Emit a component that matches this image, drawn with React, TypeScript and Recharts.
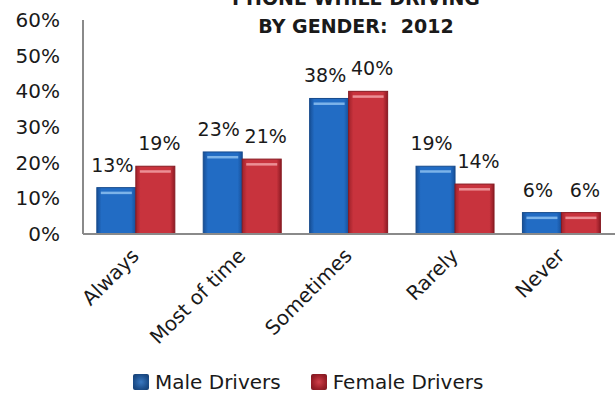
import { BarChart, Bar, XAxis, YAxis, Legend, LabelList } from 'recharts';

// Values
const categories = ['Always', 'Most of time', 'Sometimes', 'Rarely', 'Never'];
const maleDrivers = [13, 23, 38, 19, 6];
const femaleDrivers = [19, 21, 40, 14, 6];
const yTicks = [0, 10, 20, 30, 40, 50, 60];
const titleLines = ['PHONE WHILE DRIVING', 'BY GENDER:  2012'];
const seriesNames = ['Male Drivers', 'Female Drivers'];

const data = categories.map((name, i) => ({
  name,
  male: maleDrivers[i],
  female: femaleDrivers[i],
}));

const FONT = '"DejaVu Sans", sans-serif';
const TEXT = '#1a1a1a';

/** Excel-style bevelled bar: gradient body, thin highlight near the top */
function BevelBar(props: any) {
  const { x, y, width, height, gradId, edge, shine } = props;
  if (!height || height <= 0) return null;
  return (
    <g>
      <rect x={x} y={y} width={width} height={height} fill={`url(#${gradId})`} stroke={edge} strokeWidth={1} />
      <rect x={x + 4} y={y + 4} width={width - 8} height={2.5} fill={shine} opacity={0.85} />
    </g>
  );
}

// value label above a bar; shift pushes the pair apart a little so they don't collide
function PercentLabel(props: any) {
  const { x, y, width, value, shift = 0 } = props;
  return (
    <text x={x + width / 2 + shift} y={y - 16} textAnchor="middle" fontSize={19} fill={TEXT} fontFamily={FONT}>
      {value}%
    </text>
  );
}

function AngledTick(props: any) {
  const { x, y, payload } = props;
  const ax = x + 4;
  const ay = y + 15;
  return (
    <text
      x={ax}
      y={ay}
      transform={`rotate(-45, ${ax}, ${ay})`}
      textAnchor="end"
      fontSize={20}
      fill={TEXT}
      fontFamily={FONT}
    >
      {payload.value}
    </text>
  );
}

function ChartLegend() {
  const box = (bg: string) => ({
    display: 'inline-block',
    width: 16,
    height: 16,
    background: bg,
    marginRight: 6,
    borderRadius: 2,
  });
  return (
    <div
      style={{
        height: 28,
        display: 'flex',
        alignItems: 'center',
        paddingLeft: 133,
        fontFamily: FONT,
        fontSize: 20,
        color: TEXT,
        whiteSpace: 'nowrap',
      }}
    >
      <span style={box('radial-gradient(circle, #3a78c0 0%, #1d4f8c 60%, #163d6e 100%)')} />
      <span>{seriesNames[0]}</span>
      <span style={{ display: 'inline-block', width: 30 }} />
      <span style={box('radial-gradient(circle, #d0404a 0%, #9a1f28 60%, #761820 100%)')} />
      <span>{seriesNames[1]}</span>
    </div>
  );
}

export default function App() {
  return (
    <div style={{ position: 'absolute', left: 0, top: 0, width: 616, height: 396, overflow: 'hidden', background: '#fff' }}>
      {/* Title: top line runs off the top edge, as in the source */}
      <div
        style={{
          position: 'absolute',
          left: 200,
          width: 312,
          top: -16,
          textAlign: 'center',
          fontFamily: FONT,
          fontWeight: 'bold',
          fontSize: 19,
          lineHeight: '28px',
          color: TEXT,
          whiteSpace: 'pre',
          zIndex: 2,
        }}
      >
        {titleLines.map((t) => (
          <div key={t}>{t}</div>
        ))}
      </div>

      <BarChart
        width={616}
        height={396}
        data={data}
        margin={{ top: 20, right: 1, left: 0, bottom: 0 }}
        barCategoryGap="13%"
        barGap={0}
      >
        <defs>
          <linearGradient id="maleGrad" x1="0" y1="0" x2="1" y2="0">
            <stop offset="0%" stopColor="#174f96" />
            <stop offset="12%" stopColor="#226cc4" />
            <stop offset="88%" stopColor="#226cc4" />
            <stop offset="100%" stopColor="#17509a" />
          </linearGradient>
          <linearGradient id="femaleGrad" x1="0" y1="0" x2="1" y2="0">
            <stop offset="0%" stopColor="#a0222b" />
            <stop offset="12%" stopColor="#c8333d" />
            <stop offset="88%" stopColor="#c8333d" />
            <stop offset="100%" stopColor="#8e1b24" />
          </linearGradient>
        </defs>

        <XAxis
          dataKey="name"
          height={134}
          interval={0}
          tickLine={false}
          axisLine={{ stroke: '#8a8a8a', strokeWidth: 2 }}
          tick={<AngledTick />}
        />
        <YAxis
          width={83}
          domain={[0, 60]}
          ticks={yTicks}
          tickFormatter={(v: number) => `${v}%`}
          tickLine={false}
          tickMargin={17}
          axisLine={{ stroke: '#8a8a8a', strokeWidth: 2 }}
          tick={{ fontSize: 20, fill: TEXT, fontFamily: FONT }}
        />

        <Legend verticalAlign="bottom" content={<ChartLegend />} />

        <Bar
          dataKey="male"
          name={seriesNames[0]}
          fill="#226cc4"
          isAnimationActive={false}
          shape={<BevelBar gradId="maleGrad" edge="#164a8c" shine="#8cc0f0" />}
        >
          <LabelList dataKey="male" content={<PercentLabel shift={-4} />} />
        </Bar>
        <Bar
          dataKey="female"
          name={seriesNames[1]}
          fill="#c8333d"
          isAnimationActive={false}
          shape={<BevelBar gradId="femaleGrad" edge="#861a22" shine="#f2a0a4" />}
        >
          <LabelList dataKey="female" content={<PercentLabel shift={4} />} />
        </Bar>
      </BarChart>
    </div>
  );
}
